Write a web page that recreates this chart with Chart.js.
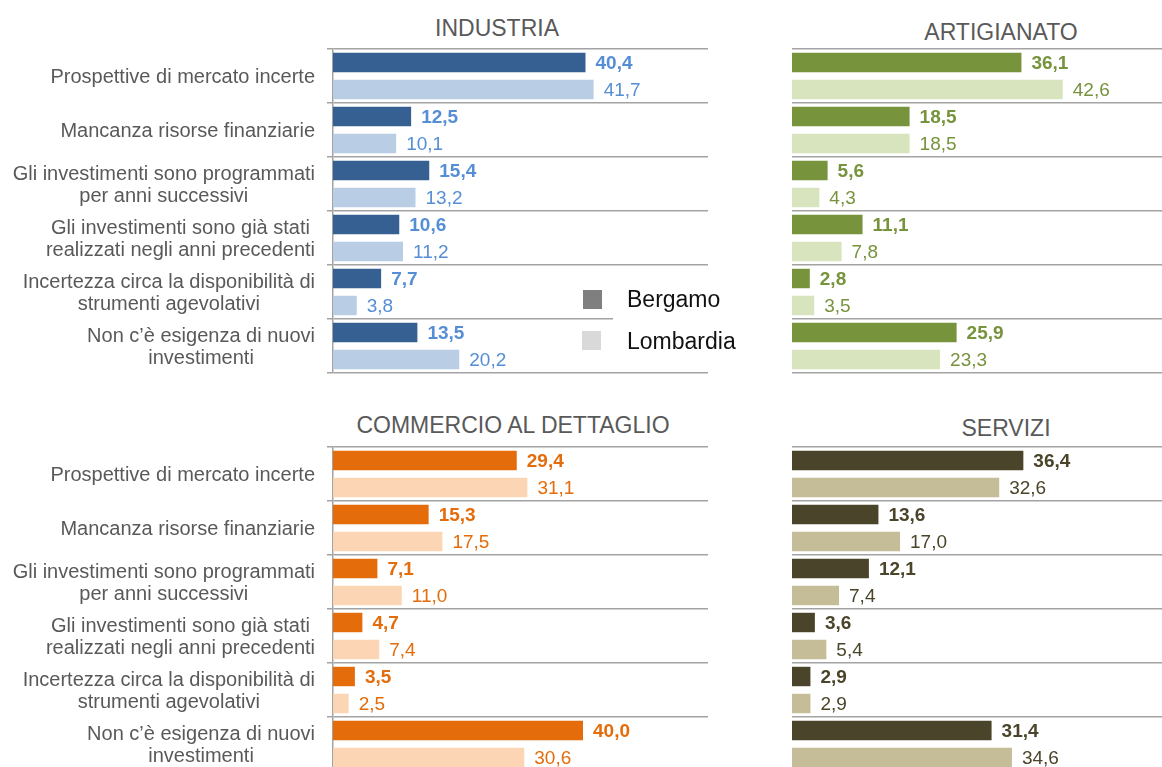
<!DOCTYPE html>
<html>
<head>
<meta charset="utf-8">
<script src="https://cdn.jsdelivr.net/npm/chart.js@4.4.1/dist/chart.umd.min.js"></script>
<style>
  html, body { margin: 0; padding: 0; background: #fff; overflow: hidden; }
  body { width: 1162px; height: 767px; position: relative; font-family: "Liberation Sans", Arial, sans-serif; }
  .panel { position: absolute; }
  .title { position: absolute; width: 400px; text-align: center; font-size: 23px; line-height: 30px; color: #595959; }
  .legend-box { position: absolute; left: 613px; top: 276px; width: 140px; height: 86px; background: #fff; }
  .legend-sq { position: absolute; width: 19px; height: 19px; }
  .legend-txt { position: absolute; font-size: 23px; line-height: 30px; color: #111; }
</style>
</head>
<body>
  <div class="title" style="left:297px;top:13px">INDUSTRIA</div>
  <div class="title" style="left:801px;top:17px">ARTIGIANATO</div>
  <div class="title" style="left:313px;top:410px">COMMERCIO AL DETTAGLIO</div>
  <div class="title" style="left:806px;top:413px">SERVIZI</div>

  <div class="panel" style="left:0;top:47px;width:708px;height:328px"><canvas id="chart-ind"></canvas></div>
  <div class="panel" style="left:792px;top:47px;width:375px;height:328px"><canvas id="chart-art"></canvas></div>
  <div class="panel" style="left:0;top:445px;width:708px;height:328px"><canvas id="chart-com"></canvas></div>
  <div class="panel" style="left:792px;top:445px;width:375px;height:328px"><canvas id="chart-ser"></canvas></div>

  <div class="legend-box"></div>
  <div class="legend-sq" style="left:583px;top:290px;background:#7f7f7f"></div>
  <div class="legend-txt" style="left:627px;top:284px">Bergamo</div>
  <div class="legend-sq" style="left:582px;top:331px;background:#d9d9d9"></div>
  <div class="legend-txt" style="left:627px;top:326px">Lombardia</div>

<script>
const categories = [
  "Prospettive di mercato incerte",
  "Mancanza risorse finanziarie",
  ["Gli investimenti sono programmati", "per anni successivi"],
  ["Gli investimenti sono già stati", "realizzati negli anni precedenti"],
  ["Incertezza circa la disponibilità di", "strumenti agevolativi"],
  ["Non c’è esigenza di nuovi", "investimenti"],
];

const industriaBergamo = [40.4, 12.5, 15.4, 10.6, 7.7, 13.5];
const industriaLombardia = [41.7, 10.1, 13.2, 11.2, 3.8, 20.2];
const artigianatoBergamo = [36.1, 18.5, 5.6, 11.1, 2.8, 25.9];
const artigianatoLombardia = [42.6, 18.5, 4.3, 7.8, 3.5, 23.3];
const commercioBergamo = [29.4, 15.3, 7.1, 4.7, 3.5, 40.0];
const commercioLombardia = [31.1, 17.5, 11.0, 7.4, 2.5, 30.6];
const serviziBergamo = [36.4, 13.6, 12.1, 3.6, 2.9, 31.4];
const serviziLombardia = [32.6, 17.0, 7.4, 5.4, 2.9, 34.6];

const FONT = '"Liberation Sans", Arial, sans-serif';
const GRID = "#a3a3a3";

function fmtVal(v) {
  return v.toFixed(1).replace(".", ",");
}

// value labels next to each bar, bold for Bergamo
const valueLabels = {
  id: "valueLabels",
  afterDatasetsDraw(chart, args, opts) {
    const ctx = chart.ctx;
    ctx.save();
    ctx.textBaseline = "middle";
    ctx.textAlign = "left";
    ctx.fillStyle = opts.color;
    chart.data.datasets.forEach((ds, d) => {
      ctx.font = (d === 0 ? "bold " : "") + "19px " + FONT;
      chart.getDatasetMeta(d).data.forEach((bar, i) => {
        ctx.fillText(fmtVal(ds.data[i]), bar.x + 10, bar.y + 1);
      });
    });
    ctx.restore();
  },
};

// category labels: block right-aligned, lines centred inside the block
const catLabels = {
  id: "catLabels",
  afterDraw(chart, args, opts) {
    if (!opts.show) return;
    const ctx = chart.ctx;
    const y = chart.scales.y;
    ctx.save();
    ctx.font = "20px " + FONT;
    ctx.fillStyle = "#595959";
    ctx.textAlign = "center";
    ctx.textBaseline = "middle";
    chart.data.labels.forEach((lab, i) => {
      const lines = Array.isArray(lab) ? lab : [lab];
      const w = Math.max(...lines.map((l) => ctx.measureText(l).width));
      const cx = y.right - 18 - w / 2;
      const cy = y.getPixelForValue(i);
      lines.forEach((l, k) => {
        ctx.fillText(l, cx, cy + (k - (lines.length - 1) / 2) * 22 + 1);
      });
    });
    ctx.restore();
  },
};

function makeChart(id, bergamo, lombardia, dark, light, textColor, withLabels, xMax) {
  const ctx = document.getElementById(id).getContext("2d");
  return new Chart(ctx, {
    type: "bar",
    data: {
      labels: categories,
      datasets: [
        { label: "Bergamo", data: bergamo, backgroundColor: dark },
        { label: "Lombardia", data: lombardia, backgroundColor: light },
      ],
    },
    options: {
      indexAxis: "y",
      responsive: true,
      maintainAspectRatio: false,
      animation: false,
      categoryPercentage: 1,
      barPercentage: 0.72,
      layout: { padding: { top: 2, bottom: 2, left: 0, right: 0 } },
      scales: {
        x: { type: "linear", min: 0, max: xMax, display: false },
        y: {
          grid: {
            offset: true,
            color: GRID,
            lineWidth: 1.5,
            drawTicks: withLabels,
            tickLength: 6,
          },
          border: { display: withLabels, color: GRID, width: 1.5 },
          ticks: { display: false },
          afterFit: (scale) => {
            scale.width = withLabels ? 333 : 0;
          },
        },
      },
      plugins: {
        legend: { display: false },
        tooltip: { enabled: false },
        valueLabels: { color: textColor },
        catLabels: { show: withLabels },
      },
    },
    plugins: [valueLabels, catLabels],
  });
}

makeChart("chart-ind", industriaBergamo, industriaLombardia, "#376092", "#b9cde5", "#558ed5", true, 60);
makeChart("chart-art", artigianatoBergamo, artigianatoLombardia, "#77933c", "#d7e4bd", "#77933c", false, 59);
makeChart("chart-com", commercioBergamo, commercioLombardia, "#e46c0a", "#fcd5b5", "#e46c0a", true, 60);
makeChart("chart-ser", serviziBergamo, serviziLombardia, "#4a452a", "#c4bd97", "#4a452a", false, 59);
</script>
</body>
</html>
